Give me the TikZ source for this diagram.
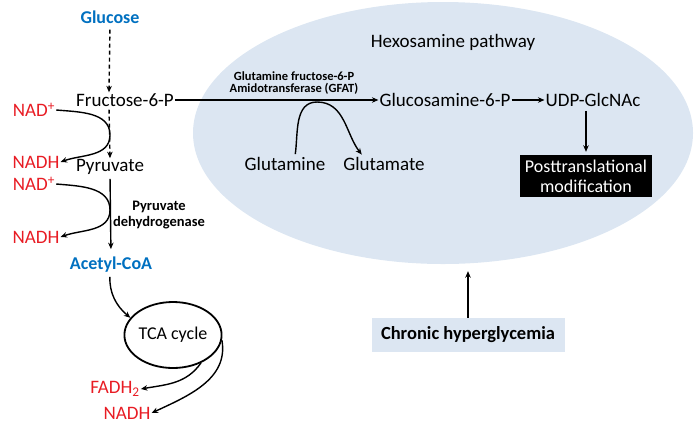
\documentclass[tikz,border=0pt]{standalone}
\usepackage{fontspec}
\setmainfont{Carlito}
\usepackage{tikz}
\usetikzlibrary{arrows.meta}
\usetikzlibrary{shapes.geometric}
\definecolor{hexfill}{RGB}{220,230,242}
\definecolor{metblue}{RGB}{0,112,192}
\definecolor{nadred}{RGB}{232,28,36}

\begin{document}
\begin{tikzpicture}[x=1pt,y=-1pt,
  txt/.style={inner sep=1pt,font=\fontsize{19}{22}\selectfont},
  bluetxt/.style={inner sep=1pt,text=metblue,font=\fontsize{18}{21}\selectfont\bfseries},
  redtxt/.style={inner sep=1pt,text=nadred,font=\fontsize{19}{22}\selectfont},
  enz/.style={inner sep=1pt,align=center,font=\fontsize{12.5}{12.5}\selectfont\bfseries},
  arr/.style={line width=1.4pt,-{Stealth[length=6.5pt,width=5.5pt]}},
  dasharr/.style={arr,dash pattern=on 4pt off 3pt}]
  \useasboundingbox (0,0) rectangle (695,437);
  \node[ellipse,fill=hexfill,minimum width=500,minimum height=262] (hex) at (443,133) {};
  \node[inner sep=1pt,font=\fontsize{19}{22}\selectfont] (hexlbl) at (453,42) {Hexosamine pathway};
  \node[bluetxt] (glc) at (110,17) {Glucose};
  \node[txt] (f6p) at (125,100) {Fructose-6-P};
  \node[txt] (pyr) at (110,167) {Pyruvate};
  \node[bluetxt] (acoa) at (111,265) {Acetyl-CoA};
  \node[redtxt] (nad1) at (34,110) {NAD\textsuperscript{+}};
  \node[redtxt] (nadh1) at (36,162) {NADH};
  \node[redtxt] (nad2) at (34,184) {NAD\textsuperscript{+}};
  \node[redtxt] (nadh2) at (36,237) {NADH};
  \node[inner sep=1pt,align=center,font=\fontsize{14.5}{16}\selectfont\bfseries] (pdh) at (159,215) {Pyruvate\\dehydrogenase};
  \node[draw,line width=1.8pt,ellipse,minimum width=92,minimum height=66,inner sep=0pt,
    font=\fontsize{18}{21}\selectfont] (tca) at (173,335) {TCA cycle};
  \node[redtxt] (fadh) at (115,389) {FADH\textsubscript{2}};
  \node[redtxt] (nadh3) at (127,413) {NADH};
  \node[enz] (gfat) at (294,83) {Glutamine fructose-6-P\\Amidotransferase (GFAT)};
  \node[txt] (glcn) at (445,100) {Glucosamine-6-P};
  \node[txt] (udp) at (593,100) {UDP-GlcNAc};
  \node[txt] (gln) at (285,164) {Glutamine};
  \node[txt] (glu) at (384,164) {Glutamate};
  \node[fill=black,text=white,align=center,minimum width=132,minimum height=42,inner sep=0pt,
    font=\fontsize{18}{20}\selectfont] (ptm) at (586,176) {Posttranslational\\modification};
  \node[fill=hexfill,minimum width=193,minimum height=34,inner sep=0pt,
    font=\fontsize{18.5}{21}\selectfont\bfseries] (chr) at (468,335) {Chronic hyperglycemia};
  \coordinate (k1) at (110,135);
  \coordinate (k2) at (110,210);
  \coordinate (k3) at (317,102);
  % glycolysis
  \draw[dasharr,shorten <=5pt] (glc.south) -- ([xshift=-16pt]f6p.north);
  \draw[dasharr,shorten <=2pt] ([xshift=-16pt]f6p.south) -- (pyr.north);
  \draw[arr,shorten <=3pt,shorten >=7pt] (pyr.south) -- (acoa.north);
  \draw[arr] (nad1.east) to[out=-5,in=90] (k1) to[out=-90,in=20] (nadh1.east);
  \draw[arr] (nad2.east) to[out=-5,in=90] (k2) to[out=-90,in=20] (nadh2.east);
  % TCA
  \draw[arr,shorten <=3pt] ([xshift=-1pt]acoa.south) to[out=-92,in=140] (tca.158);
  \draw[arr] (tca.-45) to[out=-125,in=10] (fadh.east);
  \draw[arr] (tca.-6) to[out=-80,in=25] (nadh3.east);
  % hexosamine
  \draw[arr] (f6p.east) -- (glcn.west);
  \draw[line width=1.4pt,shorten <=2pt] ([xshift=10pt]gln.north) to[out=82,in=180] (k3);
  \draw[arr,shorten >=2pt] (k3) to[out=0,in=128] ([xshift=-21pt]glu.north);
  \draw[arr] (glcn.east) -- (udp.west);
  \draw[arr,shorten <=3pt,shorten >=3pt] (udp.south -| ptm.north) -- (ptm.north);
  \draw[arr,shorten >=7pt] (chr.north) -- (chr.north |- hex.south);
\end{tikzpicture}
\end{document}
